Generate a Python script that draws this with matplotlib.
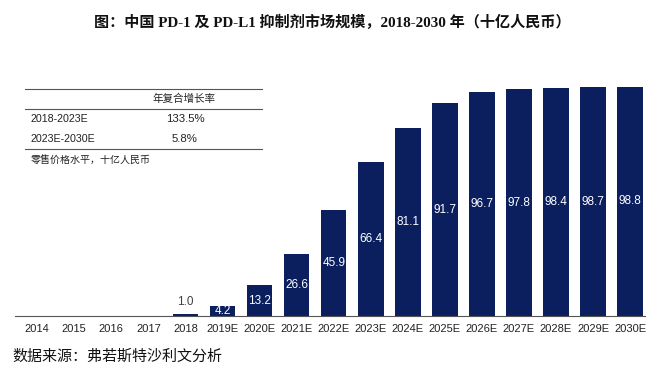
import matplotlib
matplotlib.use('Agg')
import matplotlib.pyplot as plt

plt.rcParams['font.family'] = ['Liberation Sans', 'Noto Sans CJK SC']

years = ['2014', '2015', '2016', '2017', '2018', '2019E', '2020E', '2021E', '2022E',
         '2023E', '2024E', '2025E', '2026E', '2027E', '2028E', '2029E', '2030E']
values = [0, 0, 0, 0, 1.0, 4.2, 13.2, 26.6, 45.9, 66.4, 81.1, 91.7, 96.7, 97.8, 98.4, 98.7, 98.8]
periods = ['2018-2023E', '2023E-2030E']
cagr = ['133.5%', '5.8%']

navy = '#0b1f5e'

fig = plt.figure(figsize=(6.6, 3.74), dpi=100)
ax = fig.add_axes([15 / 660, 58 / 374, 630 / 660, 229 / 374])

x = range(len(years))
bars = ax.bar(x, values, width=0.69, color=navy)
ax.set_xlim(-0.6, 16.4)
ax.set_ylim(0, 98.8)

for i, v in enumerate(values):
    if v == 0:
        continue
    if v < 2:
        ax.text(i, v + 2.5, '%.1f' % v, ha='center', va='bottom', fontsize=8.5, color='#404040')
    else:
        ax.text(i, v / 2, '%.1f' % v, ha='center', va='center', fontsize=8.5, color='white')

ax.set_xticks(list(x))
ax.set_xticklabels(years, fontsize=8, color='#222222')
ax.tick_params(axis='x', length=0, pad=6)
ax.set_yticks([])
for s in ['top', 'right', 'left']:
    ax.spines[s].set_visible(False)
ax.spines['bottom'].set_color('#555555')
ax.spines['bottom'].set_linewidth(0.8)

# table in upper left
def fx(px):
    return px / 660

def fy(py):
    return 1 - py / 374

for yy in [89, 109, 149]:
    fig.add_artist(plt.Line2D([fx(25), fx(262)], [fy(yy), fy(yy)], color='#555555', lw=0.8))
fig.text(fx(184), fy(99), '年复合增长率', ha='center', va='center', fontsize=7.6, color='#222222')
for k, (p, c) in enumerate(zip(periods, cagr)):
    yy = 119 + 20 * k
    fig.text(fx(31), fy(yy), p, ha='left', va='center', fontsize=7.7, color='#222222')
    fig.text(fx(185), fy(yy), c, ha='center', va='center', fontsize=8.2, color='#222222')
fig.text(fx(31), fy(161), '零售价格水平，十亿人民币', ha='left', va='center', fontsize=7.2, color='#222222')

fig.text(fx(332), fy(22), '图：中国 PD-1 及 PD-L1 抑制剂市场规模，2018-2030 年（十亿人民币）',
         ha='center', va='center', fontsize=10.9, fontweight='bold',
         family=['Liberation Serif', 'Noto Sans CJK SC'], color='#111111')
fig.text(fx(12), fy(357), '数据来源：弗若斯特沙利文分析', ha='left', va='center', fontsize=10.8,
         family=['Liberation Serif', 'Noto Sans CJK SC'], color='#111111')

fig.savefig('out.png', dpi=100)
